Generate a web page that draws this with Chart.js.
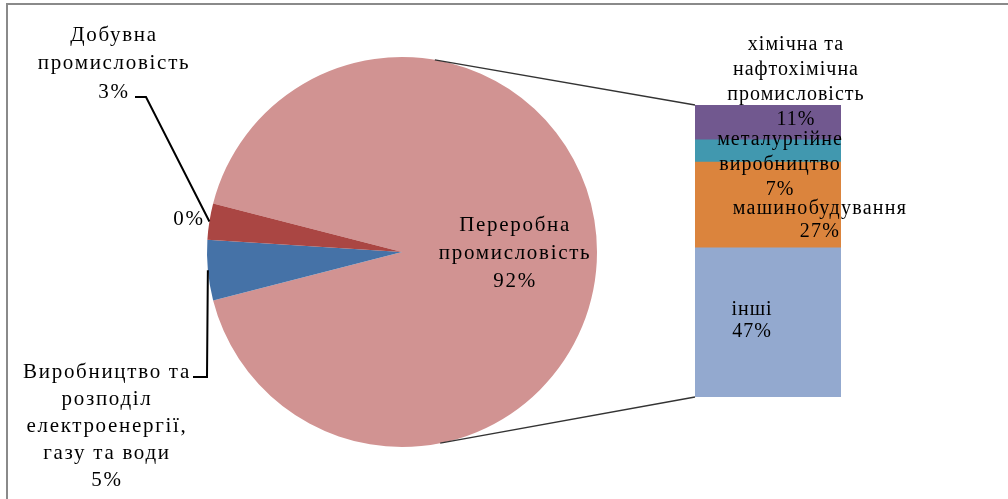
<!DOCTYPE html>
<html>
<head>
<meta charset="utf-8">
<script src="https://cdn.jsdelivr.net/npm/chart.js@4/dist/chart.umd.min.js"></script>
<style>
  html, body { margin: 0; padding: 0; background: #fff; }
  #wrap { position: relative; width: 1008px; height: 499px; overflow: hidden; }
  #frame { position: absolute; left: 6px; top: 3px; width: 1010px; height: 510px;
           border-top: 2px solid #8a8a8a; border-left: 2px solid #8a8a8a; }
  canvas { position: absolute; left: 0; top: 0; }
</style>
</head>
<body>
<div id="wrap">
  <div id="frame"></div>
  <canvas id="pie" width="1008" height="499"></canvas>
  <canvas id="bar" width="1008" height="499"></canvas>
</div>
<script>
// main pie: industry sectors, % of total
const pieLabels = ['Переробна промисловість', 'Виробництво та розподіл електроенергії, газу та води', 'Добувна промисловість', ''];
const pieValues = [92, 5, 3, 0];
const pieColors = ['#D19392', '#4572A7', '#AA4643', '#89A54E'];

// split of the "Переробна" slice, % of total
const barLabels = ['інші', 'машинобудування', 'металургійне виробництво', 'хімічна та нафтохімічна промисловість'];
const barValues = [47, 27, 7, 11];
const barColors = ['#93A9CF', '#DB843D', '#4198AF', '#71588F'];

const serif = '"Liberation Serif", "Times New Roman", serif';

function textLines(ctx, lines, x, y, step) {
    lines.forEach((s, i) => ctx.fillText(s, x, y + i * step));
}

function midPoint(arc) {
    const a = (arc.startAngle + arc.endAngle) / 2;
    return { x: arc.x + Math.cos(a) * arc.outerRadius, y: arc.y + Math.sin(a) * arc.outerRadius };
}

const pieLabelsPlugin = {
    id: 'pieLabels',
    afterDraw(chart) {
        const ctx = chart.ctx;
        const arcs = chart.getDatasetMeta(0).data;
        ctx.save();
        ctx.fillStyle = '#000';
        ctx.font = '21px ' + serif;
        ctx.letterSpacing = '1.7px';
        ctx.textAlign = 'center';
        ctx.textBaseline = 'middle';

        // big slice label, inside
        const big = arcs[0];
        const bx = big.x + big.outerRadius * 0.58;
        textLines(ctx, ['Переробна', 'промисловість', pieValues[0] + '%'], bx, big.y - 27, 28);

        // small slices, outside with leaders
        textLines(ctx, ['Добувна', 'промисловість'], 114, 35, 28);
        ctx.fillText(pieValues[2] + '%', 114, 92);
        ctx.fillText(pieValues[3] + '%', 189, 219);
        textLines(ctx, ['Виробництво та', 'розподіл', 'електроенергії,', 'газу та води', pieValues[1] + '%'], 107, 372, 27);

        ctx.strokeStyle = '#000';
        ctx.lineWidth = 2;
        let p = midPoint(arcs[2]);
        ctx.beginPath();
        ctx.moveTo(135, 97); ctx.lineTo(146, 97); ctx.lineTo(p.x, p.y);
        ctx.stroke();
        p = midPoint(arcs[1]);
        ctx.beginPath();
        ctx.moveTo(193, 377); ctx.lineTo(207, 377); ctx.lineTo(p.x, p.y);
        ctx.stroke();
        ctx.restore();
    }
};

const pieChart = new Chart(document.getElementById('pie'), {
    type: 'pie',
    data: {
        labels: pieLabels,
        datasets: [{ data: pieValues, backgroundColor: pieColors, borderWidth: 0 }]
    },
    options: {
        responsive: false,
        animation: false,
        rotation: 90 - (pieValues[0] / 100) * 180, // big slice centred on the right
        layout: { padding: { left: 207, right: 411, top: 57, bottom: 52 } },
        plugins: { legend: { display: false }, tooltip: { enabled: false } }
    },
    plugins: [pieLabelsPlugin]
});

const barLabelsPlugin = {
    id: 'barLabels',
    afterDraw(chart) {
        const ctx = chart.ctx;
        const el = i => chart.getDatasetMeta(i).data[0];
        ctx.save();

        // connector lines from the pie to the bar
        const arc = pieChart.getDatasetMeta(0).data[0];
        const top = el(barValues.length - 1), bottom = el(0);
        const left = top.x - top.width / 2;
        ctx.strokeStyle = '#333';
        ctx.lineWidth = 1.3;
        const a1 = -80.3 * Math.PI / 180, a2 = 78.7 * Math.PI / 180;
        ctx.beginPath();
        ctx.moveTo(arc.x + Math.cos(a1) * arc.outerRadius, arc.y + Math.sin(a1) * arc.outerRadius);
        ctx.lineTo(left, top.y);
        ctx.moveTo(arc.x + Math.cos(a2) * arc.outerRadius, arc.y + Math.sin(a2) * arc.outerRadius);
        ctx.lineTo(left, bottom.base);
        ctx.stroke();

        ctx.fillStyle = '#000';
        ctx.font = '20px ' + serif;
        ctx.letterSpacing = '1px';
        ctx.textAlign = 'center';
        ctx.textBaseline = 'middle';
        const cx = top.x;
        textLines(ctx, ['хімічна та', 'нафтохімічна', 'промисловість', barValues[3] + '%'], cx + 28, el(3).y - 60, 25);
        textLines(ctx, ['металургійне', 'виробництво', barValues[2] + '%'], cx + 12, el(2).y, 25);
        textLines(ctx, ['інші', barValues[0] + '%'], cx - 16, el(0).y + 62, 22);
        ctx.letterSpacing = '1.3px';
        textLines(ctx, ['машинобудування', barValues[1] + '%'], cx + 52, el(1).y + 47, 23);
        ctx.restore();
    }
};

new Chart(document.getElementById('bar'), {
    type: 'bar',
    data: {
        labels: [''],
        datasets: barValues.map((v, i) => ({
            label: barLabels[i],
            data: [v],
            backgroundColor: barColors[i],
            borderWidth: 0,
            barPercentage: 1,
            categoryPercentage: 1
        }))
    },
    options: {
        responsive: false,
        animation: false,
        layout: { padding: { left: 695, right: 167, top: 105, bottom: 102 } },
        scales: {
            x: { stacked: true, display: false },
            y: { stacked: true, display: false, min: 0, max: barValues.reduce((a, b) => a + b, 0) }
        },
        plugins: { legend: { display: false }, tooltip: { enabled: false } }
    },
    plugins: [barLabelsPlugin]
});
</script>
</body>
</html>
